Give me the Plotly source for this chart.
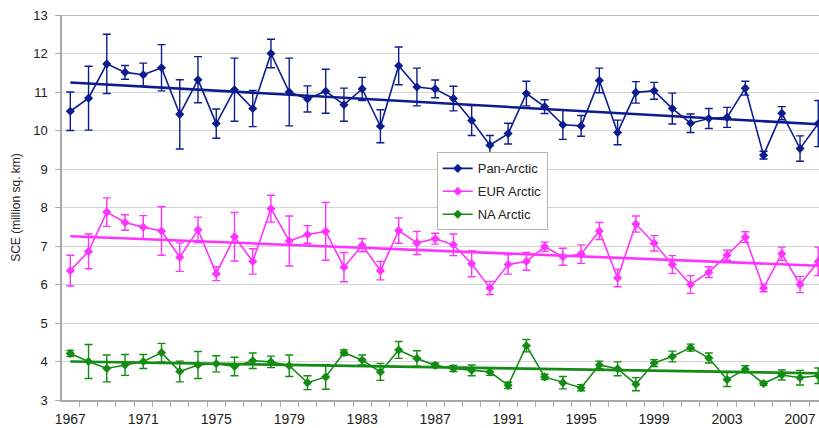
import numpy as np
import plotly.graph_objects as go

# Snow cover extent (million sq. km), 1967-2008, with +/- uncertainty
years = list(range(1967, 2009))

pan_arctic = [10.50, 10.84, 11.73, 11.51, 11.45, 11.63, 10.42, 11.32, 10.18, 11.06,
              10.57, 12.00, 11.00, 10.82, 11.02, 10.67, 11.08, 10.11, 11.68, 11.13,
              11.08, 10.83, 10.26, 9.62, 9.92, 10.96, 10.62, 10.15, 10.12, 11.30,
              9.95, 10.99, 11.03, 10.57, 10.19, 10.31, 10.34, 11.10, 9.36, 10.45,
              9.53, 10.18]
pan_arctic_err = [0.50, 0.83, 0.77, 0.18, 0.30, 0.60, 0.90, 0.60, 0.38, 0.82,
                  0.47, 0.37, 0.88, 0.34, 0.57, 0.43, 0.30, 0.43, 0.49, 0.49,
                  0.23, 0.32, 0.39, 0.25, 0.27, 0.32, 0.18, 0.38, 0.27, 0.32,
                  0.32, 0.28, 0.22, 0.40, 0.24, 0.26, 0.26, 0.18, 0.10, 0.17,
                  0.33, 0.60]

eur_arctic = [6.36, 6.86, 7.88, 7.61, 7.49, 7.39, 6.71, 7.42, 6.28, 7.24,
              6.60, 7.97, 7.13, 7.30, 7.38, 6.45, 7.02, 6.36, 7.40, 7.08,
              7.19, 7.03, 6.54, 5.91, 6.52, 6.60, 6.98, 6.72, 6.79, 7.39,
              6.17, 7.57, 7.07, 6.52, 6.00, 6.32, 6.76, 7.23, 5.91, 6.80,
              6.00, 6.60]
eur_arctic_err = [0.40, 0.45, 0.37, 0.20, 0.30, 0.63, 0.37, 0.33, 0.18, 0.63,
                  0.33, 0.35, 0.65, 0.23, 0.75, 0.38, 0.17, 0.24, 0.33, 0.30,
                  0.14, 0.28, 0.34, 0.17, 0.25, 0.23, 0.12, 0.22, 0.24, 0.22,
                  0.23, 0.21, 0.20, 0.23, 0.23, 0.14, 0.13, 0.14, 0.10, 0.17,
                  0.21, 0.37]

na_arctic = [4.21, 4.00, 3.82, 3.91, 4.00, 4.23, 3.74, 3.91, 3.94, 3.87,
             4.02, 3.99, 3.89, 3.45, 3.60, 4.23, 4.04, 3.73, 4.30, 4.08,
             3.90, 3.82, 3.77, 3.73, 3.38, 4.41, 3.60, 3.45, 3.32, 3.91,
             3.81, 3.41, 3.96, 4.13, 4.36, 4.09, 3.53, 3.80, 3.43, 3.65,
             3.58, 3.63]
na_arctic_err = [0.08, 0.44, 0.35, 0.27, 0.18, 0.24, 0.27, 0.35, 0.21, 0.24,
                 0.20, 0.15, 0.28, 0.18, 0.32, 0.07, 0.13, 0.22, 0.22, 0.20,
                 0.06, 0.08, 0.14, 0.09, 0.08, 0.16, 0.07, 0.16, 0.08, 0.10,
                 0.18, 0.17, 0.09, 0.14, 0.09, 0.13, 0.18, 0.09, 0.05, 0.13,
                 0.19, 0.20]

x_tick_years = list(range(1967, 2008, 4))
x_tick_labels = [str(y) for y in x_tick_years]
y_ticks = list(range(3, 14))

series = [
    ("Pan-Arctic", pan_arctic, pan_arctic_err, "#0c1c8e"),
    ("EUR Arctic", eur_arctic, eur_arctic_err, "#ff33ff"),
    ("NA Arctic", na_arctic, na_arctic_err, "#148c14"),
]

FONT = "Liberation Sans, Arial, sans-serif"

fig = go.Figure()

x = np.array(years, dtype=float)
for i, (name, vals, errs, color) in enumerate(series):
    fig.add_trace(go.Scatter(
        x=years, y=vals, name=name, mode="lines+markers",
        line=dict(color=color, width=1.6),
        marker=dict(symbol="diamond", size=7, color=color),
        error_y=dict(type="data", array=errs, visible=True,
                     color=color, thickness=1.4, width=4),
        legendgroup=f"g{i}",
        cliponaxis=True,
    ))

# Linear trend lines fitted to each series
for i, (name, vals, errs, color) in enumerate(series):
    slope, intercept = np.polyfit(x, np.array(vals), 1)
    fig.add_trace(go.Scatter(
        x=[x[0], x[-1]], y=[slope * x[0] + intercept, slope * x[-1] + intercept],
        mode="lines", line=dict(color=color, width=2.6),
        showlegend=False, hoverinfo="skip", legendgroup=f"g{i}",
    ))

# Heavier rule along the top of the plotting area
fig.add_shape(type="line", xref="paper", yref="y", x0=0, x1=1, y0=13, y1=13,
              line=dict(color="#bdbdbd", width=2), layer="below")

fig.update_layout(
    width=819, height=428,
    margin=dict(l=62, r=0, t=15, b=28),
    paper_bgcolor="white", plot_bgcolor="white",
    font=dict(family=FONT, size=12, color="#222222"),
    showlegend=True,
    legend=dict(
        x=0.495, y=0.643, xanchor="left", yanchor="top",
        bgcolor="white", bordercolor="#b4b4b4", borderwidth=1,
        font=dict(family=FONT, size=13, color="#222222"),
        tracegroupgap=3, itemwidth=30,
    ),
    xaxis=dict(
        range=[1966.545, 2008.04], automargin=False,
        tickmode="array", tickvals=x_tick_years, ticktext=x_tick_labels,
        ticks="", showgrid=False, zeroline=False,
        showline=True, linecolor="#a8a8a8", linewidth=1.5,
        tickfont=dict(family=FONT, size=14, color="#222222"),
        ticklabelstandoff=5,
        minor=dict(ticks="outside", tick0=1966.5, dtick=1, ticklen=5,
                   tickcolor="#a8a8a8", tickwidth=1, showgrid=False),
    ),
    yaxis=dict(
        range=[3, 13], tickmode="array", tickvals=y_ticks, automargin=False,
        ticks="outside", ticklen=5, tickcolor="#a8a8a8",
        showgrid=True, gridcolor="#d4d4d4", gridwidth=1, zeroline=False,
        showline=True, linecolor="#a8a8a8", linewidth=1.5,
        tickfont=dict(family=FONT, size=13, color="#222222"),
        ticklabelstandoff=5,
        title=dict(text="SCE (million sq. km)", standoff=10,
                   font=dict(family=FONT, size=12, color="#222222")),
    ),
)

fig.write_html("out.html")
